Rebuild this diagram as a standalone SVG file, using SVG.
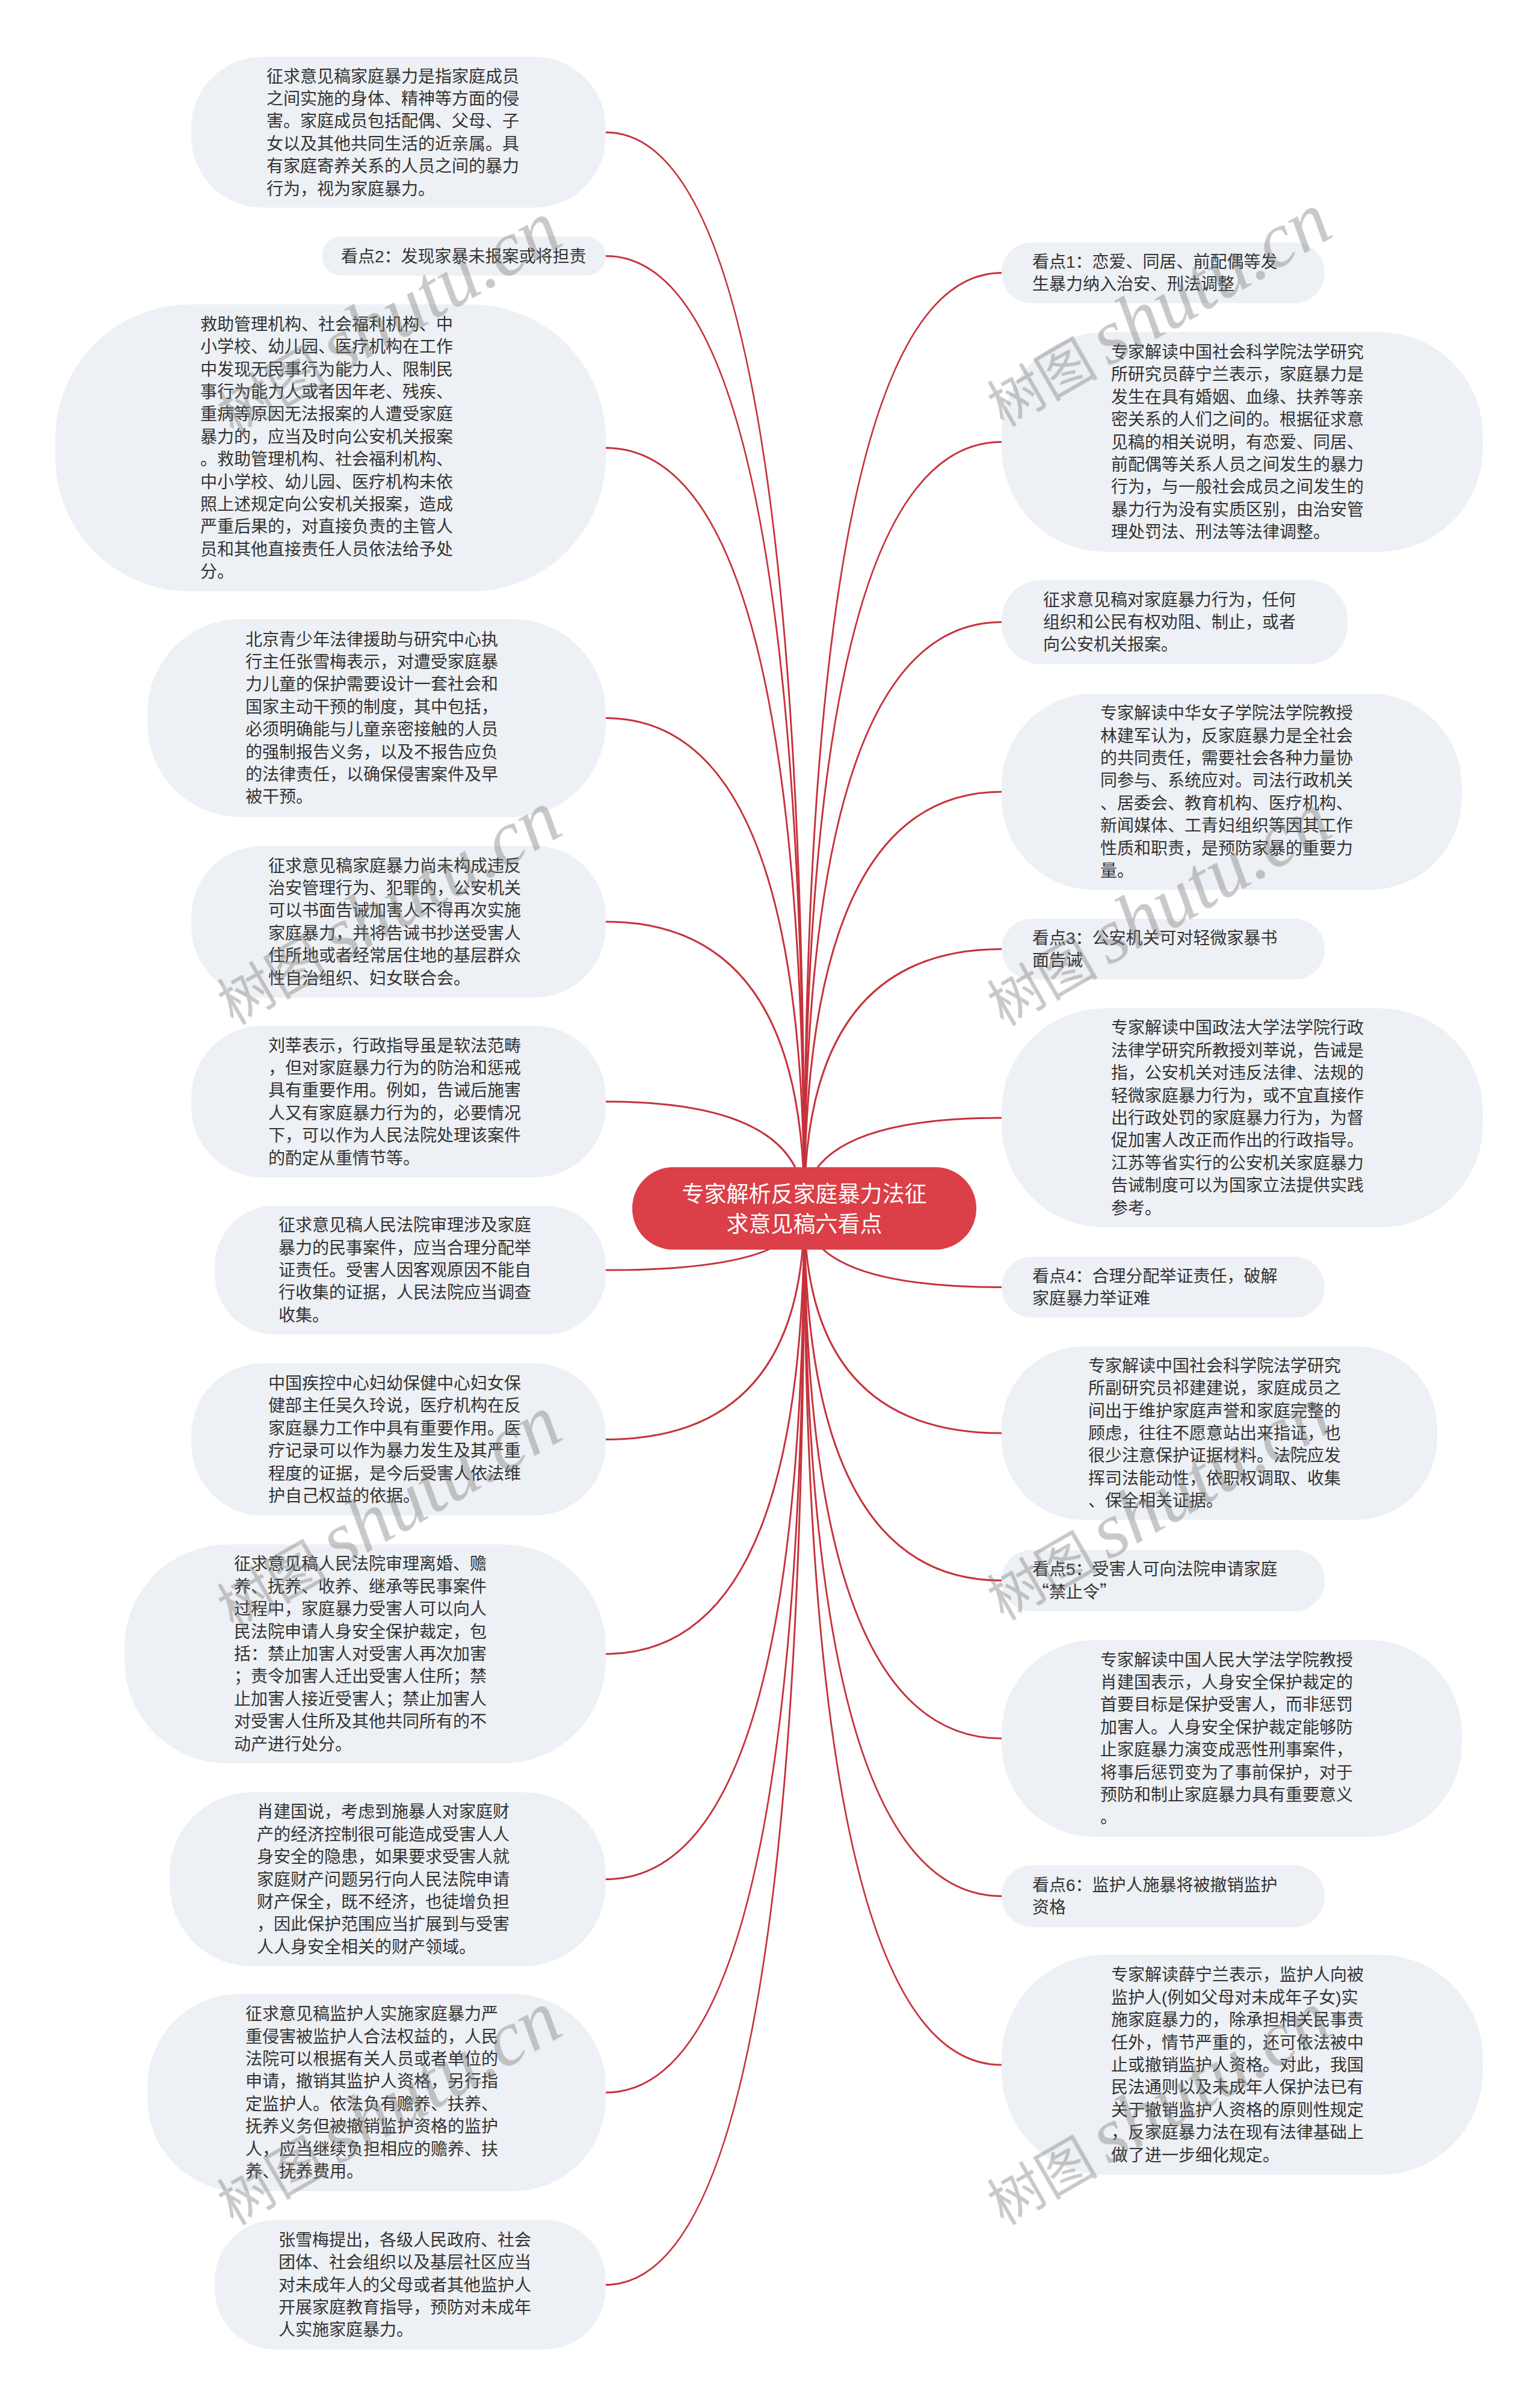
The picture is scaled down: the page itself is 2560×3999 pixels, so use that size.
<svg xmlns="http://www.w3.org/2000/svg" width="2560" height="3999" viewBox="0 0 2560 3999">
<style>
.bg{fill:#ffffff}
.node rect{fill:#EDF0F4}
.t{font-family:'Liberation Sans','Noto Sans CJK SC',sans-serif;font-size:28px;fill:#333333}
.conn path{fill:none;stroke:#C6323B;stroke-width:3}
.root rect{fill:#DB3F47}
.rt{font-family:'Liberation Sans','Noto Sans CJK SC',sans-serif;font-size:37px;fill:#ffffff;text-anchor:middle}
.wm{fill:#787878;opacity:0.4}
.wm1{font-family:'Noto Sans CJK SC',sans-serif;font-size:92px}
.wm2{font-family:'Liberation Serif',serif;font-size:130px;font-style:italic}
</style>
<rect class="bg" x="0" y="0" width="2560" height="3999"/>
<g id="connectors" class="conn">
<path d="M1337,2008 Q1337,220 1007,220"/>
<path d="M1337,2008 Q1337,425.5 1007,425.5"/>
<path d="M1337,2008 Q1337,744.5 1007,744.5"/>
<path d="M1337,2008 Q1337,1193.5 1007,1193.5"/>
<path d="M1337,2008 Q1337,1532 1007,1532"/>
<path d="M1337,2008 Q1337,1831 1007,1831"/>
<path d="M1337,2008 Q1337,2111 1007,2111"/>
<path d="M1337,2008 Q1337,2392.5 1007,2392.5"/>
<path d="M1337,2008 Q1337,2749 1007,2749"/>
<path d="M1337,2008 Q1337,3123.5 1007,3123.5"/>
<path d="M1337,2008 Q1337,3478 1007,3478"/>
<path d="M1337,2008 Q1337,3797.5 1007,3797.5"/>
<path d="M1337,2008 Q1337,453.5 1665,453.5"/>
<path d="M1337,2008 Q1337,734.5 1665,734.5"/>
<path d="M1337,2008 Q1337,1034 1665,1034"/>
<path d="M1337,2008 Q1337,1316 1665,1316"/>
<path d="M1337,2008 Q1337,1577.5 1665,1577.5"/>
<path d="M1337,2008 Q1337,1858 1665,1858"/>
<path d="M1337,2008 Q1337,2139.5 1665,2139.5"/>
<path d="M1337,2008 Q1337,2382 1665,2382"/>
<path d="M1337,2008 Q1337,2627 1665,2627"/>
<path d="M1337,2008 Q1337,2889.5 1665,2889.5"/>
<path d="M1337,2008 Q1337,3151.5 1665,3151.5"/>
<path d="M1337,2008 Q1337,3432 1665,3432"/>
</g>
<g id="root" class="root">
<rect x="1051" y="1940" width="572" height="137" rx="68" ry="68"/>
<text class="rt" x="1337" y="1998">专家解析反家庭暴力法征</text>
<text class="rt" x="1337" y="2048">求意见稿六看点</text>
</g>
<g id="L1" class="node">
<rect x="318" y="94.5" width="689" height="250.5" rx="118" ry="118"/>
<text class="t" x="443" y="136.5"><tspan x="443">征求意见稿家庭暴力是指家庭成员</tspan><tspan x="443" dy="37.4">之间实施的身体、精神等方面的侵</tspan><tspan x="443" dy="37.4">害。家庭成员包括配偶、父母、子</tspan><tspan x="443" dy="37.4">女以及其他共同生活的近亲属。具</tspan><tspan x="443" dy="37.4">有家庭寄养关系的人员之间的暴力</tspan><tspan x="443" dy="37.4">行为，视为家庭暴力。</tspan></text>
</g>
<g id="L2" class="node">
<rect x="535" y="393" width="472" height="65" rx="32.5" ry="32.5"/>
<text class="t" x="567" y="435.5">看点2：发现家暴未报案或将担责</text>
</g>
<g id="L3" class="node">
<rect x="92" y="506" width="915" height="477" rx="224" ry="224"/>
<text class="t" x="333" y="548.8"><tspan x="333">救助管理机构、社会福利机构、中</tspan><tspan x="333" dy="37.4">小学校、幼儿园、医疗机构在工作</tspan><tspan x="333" dy="37.4">中发现无民事行为能力人、限制民</tspan><tspan x="333" dy="37.4">事行为能力人或者因年老、残疾、</tspan><tspan x="333" dy="37.4">重病等原因无法报案的人遭受家庭</tspan><tspan x="333" dy="37.4">暴力的，应当及时向公安机关报案</tspan><tspan x="333" dy="37.4">。救助管理机构、社会福利机构、</tspan><tspan x="333" dy="37.4">中小学校、幼儿园、医疗机构未依</tspan><tspan x="333" dy="37.4">照上述规定向公安机关报案，造成</tspan><tspan x="333" dy="37.4">严重后果的，对直接负责的主管人</tspan><tspan x="333" dy="37.4">员和其他直接责任人员依法给予处</tspan><tspan x="333" dy="37.4">分。</tspan></text>
</g>
<g id="L4" class="node">
<rect x="245" y="1029" width="762" height="329" rx="155" ry="155"/>
<text class="t" x="408" y="1072.6"><tspan x="408">北京青少年法律援助与研究中心执</tspan><tspan x="408" dy="37.4">行主任张雪梅表示，对遭受家庭暴</tspan><tspan x="408" dy="37.4">力儿童的保护需要设计一套社会和</tspan><tspan x="408" dy="37.4">国家主动干预的制度，其中包括，</tspan><tspan x="408" dy="37.4">必须明确能与儿童亲密接触的人员</tspan><tspan x="408" dy="37.4">的强制报告义务，以及不报告应负</tspan><tspan x="408" dy="37.4">的法律责任，以确保侵害案件及早</tspan><tspan x="408" dy="37.4">被干预。</tspan></text>
</g>
<g id="L5" class="node">
<rect x="318" y="1406" width="689" height="252" rx="118" ry="118"/>
<text class="t" x="446" y="1448.5"><tspan x="446">征求意见稿家庭暴力尚未构成违反</tspan><tspan x="446" dy="37.4">治安管理行为、犯罪的，公安机关</tspan><tspan x="446" dy="37.4">可以书面告诫加害人不得再次实施</tspan><tspan x="446" dy="37.4">家庭暴力，并将告诫书抄送受害人</tspan><tspan x="446" dy="37.4">住所地或者经常居住地的基层群众</tspan><tspan x="446" dy="37.4">性自治组织、妇女联合会。</tspan></text>
</g>
<g id="L6" class="node">
<rect x="318" y="1705" width="689" height="252" rx="118" ry="118"/>
<text class="t" x="446" y="1747.5"><tspan x="446">刘莘表示，行政指导虽是软法范畴</tspan><tspan x="446" dy="37.4">，但对家庭暴力行为的防治和惩戒</tspan><tspan x="446" dy="37.4">具有重要作用。例如，告诫后施害</tspan><tspan x="446" dy="37.4">人又有家庭暴力行为的，必要情况</tspan><tspan x="446" dy="37.4">下，可以作为人民法院处理该案件</tspan><tspan x="446" dy="37.4">的酌定从重情节等。</tspan></text>
</g>
<g id="L7" class="node">
<rect x="357" y="2004" width="650" height="214" rx="100" ry="100"/>
<text class="t" x="463" y="2046.2"><tspan x="463">征求意见稿人民法院审理涉及家庭</tspan><tspan x="463" dy="37.4">暴力的民事案件，应当合理分配举</tspan><tspan x="463" dy="37.4">证责任。受害人因客观原因不能自</tspan><tspan x="463" dy="37.4">行收集的证据，人民法院应当调查</tspan><tspan x="463" dy="37.4">收集。</tspan></text>
</g>
<g id="L8" class="node">
<rect x="318" y="2266" width="689" height="253" rx="119" ry="119"/>
<text class="t" x="446" y="2309"><tspan x="446">中国疾控中心妇幼保健中心妇女保</tspan><tspan x="446" dy="37.4">健部主任吴久玲说，医疗机构在反</tspan><tspan x="446" dy="37.4">家庭暴力工作中具有重要作用。医</tspan><tspan x="446" dy="37.4">疗记录可以作为暴力发生及其严重</tspan><tspan x="446" dy="37.4">程度的证据，是今后受害人依法维</tspan><tspan x="446" dy="37.4">护自己权益的依据。</tspan></text>
</g>
<g id="L9" class="node">
<rect x="207" y="2567" width="800" height="364" rx="171" ry="171"/>
<text class="t" x="389" y="2609.4"><tspan x="389">征求意见稿人民法院审理离婚、赡</tspan><tspan x="389" dy="37.4">养、抚养、收养、继承等民事案件</tspan><tspan x="389" dy="37.4">过程中，家庭暴力受害人可以向人</tspan><tspan x="389" dy="37.4">民法院申请人身安全保护裁定，包</tspan><tspan x="389" dy="37.4">括：禁止加害人对受害人再次加害</tspan><tspan x="389" dy="37.4">；责令加害人迁出受害人住所；禁</tspan><tspan x="389" dy="37.4">止加害人接近受害人；禁止加害人</tspan><tspan x="389" dy="37.4">对受害人住所及其他共同所有的不</tspan><tspan x="389" dy="37.4">动产进行处分。</tspan></text>
</g>
<g id="L10" class="node">
<rect x="282" y="2979" width="725" height="289" rx="136" ry="136"/>
<text class="t" x="427" y="3021.3"><tspan x="427">肖建国说，考虑到施暴人对家庭财</tspan><tspan x="427" dy="37.4">产的经济控制很可能造成受害人人</tspan><tspan x="427" dy="37.4">身安全的隐患，如果要求受害人就</tspan><tspan x="427" dy="37.4">家庭财产问题另行向人民法院申请</tspan><tspan x="427" dy="37.4">财产保全，既不经济，也徒增负担</tspan><tspan x="427" dy="37.4">，因此保护范围应当扩展到与受害</tspan><tspan x="427" dy="37.4">人人身安全相关的财产领域。</tspan></text>
</g>
<g id="L11" class="node">
<rect x="245" y="3314" width="762" height="328" rx="154" ry="154"/>
<text class="t" x="408" y="3357.1"><tspan x="408">征求意见稿监护人实施家庭暴力严</tspan><tspan x="408" dy="37.4">重侵害被监护人合法权益的，人民</tspan><tspan x="408" dy="37.4">法院可以根据有关人员或者单位的</tspan><tspan x="408" dy="37.4">申请，撤销其监护人资格，另行指</tspan><tspan x="408" dy="37.4">定监护人。依法负有赡养、扶养、</tspan><tspan x="408" dy="37.4">抚养义务但被撤销监护资格的监护</tspan><tspan x="408" dy="37.4">人，应当继续负担相应的赡养、扶</tspan><tspan x="408" dy="37.4">养、抚养费用。</tspan></text>
</g>
<g id="L12" class="node">
<rect x="357" y="3690" width="650" height="215" rx="101" ry="101"/>
<text class="t" x="463" y="3732.7"><tspan x="463">张雪梅提出，各级人民政府、社会</tspan><tspan x="463" dy="37.4">团体、社会组织以及基层社区应当</tspan><tspan x="463" dy="37.4">对未成年人的父母或者其他监护人</tspan><tspan x="463" dy="37.4">开展家庭教育指导，预防对未成年</tspan><tspan x="463" dy="37.4">人实施家庭暴力。</tspan></text>
</g>
<g id="R1" class="node">
<rect x="1665" y="403" width="537" height="101" rx="50" ry="50"/>
<text class="t" x="1716" y="444.8"><tspan x="1716">看点1：恋爱、同居、前配偶等发</tspan><tspan x="1716" dy="37.4">生暴力纳入治安、刑法调整</tspan></text>
</g>
<g id="R2" class="node">
<rect x="1665" y="552" width="800" height="365" rx="172" ry="172"/>
<text class="t" x="1847" y="594.9"><tspan x="1847">专家解读中国社会科学院法学研究</tspan><tspan x="1847" dy="37.4">所研究员薛宁兰表示，家庭暴力是</tspan><tspan x="1847" dy="37.4">发生在具有婚姻、血缘、扶养等亲</tspan><tspan x="1847" dy="37.4">密关系的人们之间的。根据征求意</tspan><tspan x="1847" dy="37.4">见稿的相关说明，有恋爱、同居、</tspan><tspan x="1847" dy="37.4">前配偶等关系人员之间发生的暴力</tspan><tspan x="1847" dy="37.4">行为，与一般社会成员之间发生的</tspan><tspan x="1847" dy="37.4">暴力行为没有实质区别，由治安管</tspan><tspan x="1847" dy="37.4">理处罚法、刑法等法律调整。</tspan></text>
</g>
<g id="R3" class="node">
<rect x="1665" y="964" width="575" height="140" rx="66" ry="66"/>
<text class="t" x="1734" y="1006.6"><tspan x="1734">征求意见稿对家庭暴力行为，任何</tspan><tspan x="1734" dy="37.4">组织和公民有权劝阻、制止，或者</tspan><tspan x="1734" dy="37.4">向公安机关报案。</tspan></text>
</g>
<g id="R4" class="node">
<rect x="1665" y="1153" width="765" height="326" rx="153" ry="153"/>
<text class="t" x="1829" y="1195.1"><tspan x="1829">专家解读中华女子学院法学院教授</tspan><tspan x="1829" dy="37.4">林建军认为，反家庭暴力是全社会</tspan><tspan x="1829" dy="37.4">的共同责任，需要社会各种力量协</tspan><tspan x="1829" dy="37.4">同参与、系统应对。司法行政机关</tspan><tspan x="1829" dy="37.4">、居委会、教育机构、医疗机构、</tspan><tspan x="1829" dy="37.4">新闻媒体、工青妇组织等因其工作</tspan><tspan x="1829" dy="37.4">性质和职责，是预防家暴的重要力</tspan><tspan x="1829" dy="37.4">量。</tspan></text>
</g>
<g id="R5" class="node">
<rect x="1665" y="1527" width="537" height="101" rx="50" ry="50"/>
<text class="t" x="1716" y="1568.8"><tspan x="1716">看点3：公安机关可对轻微家暴书</tspan><tspan x="1716" dy="37.4">面告诫</tspan></text>
</g>
<g id="R6" class="node">
<rect x="1665" y="1676" width="800" height="364" rx="171" ry="171"/>
<text class="t" x="1847" y="1718.4"><tspan x="1847">专家解读中国政法大学法学院行政</tspan><tspan x="1847" dy="37.4">法律学研究所教授刘莘说，告诫是</tspan><tspan x="1847" dy="37.4">指，公安机关对违反法律、法规的</tspan><tspan x="1847" dy="37.4">轻微家庭暴力行为，或不宜直接作</tspan><tspan x="1847" dy="37.4">出行政处罚的家庭暴力行为，为督</tspan><tspan x="1847" dy="37.4">促加害人改正而作出的行政指导。</tspan><tspan x="1847" dy="37.4">江苏等省实行的公安机关家庭暴力</tspan><tspan x="1847" dy="37.4">告诫制度可以为国家立法提供实践</tspan><tspan x="1847" dy="37.4">参考。</tspan></text>
</g>
<g id="R7" class="node">
<rect x="1665" y="2089" width="537" height="101" rx="50" ry="50"/>
<text class="t" x="1716" y="2130.8"><tspan x="1716">看点4：合理分配举证责任，破解</tspan><tspan x="1716" dy="37.4">家庭暴力举证难</tspan></text>
</g>
<g id="R8" class="node">
<rect x="1665" y="2238" width="724" height="288" rx="135" ry="135"/>
<text class="t" x="1809" y="2279.8"><tspan x="1809">专家解读中国社会科学院法学研究</tspan><tspan x="1809" dy="37.4">所副研究员祁建建说，家庭成员之</tspan><tspan x="1809" dy="37.4">间出于维护家庭声誉和家庭完整的</tspan><tspan x="1809" dy="37.4">顾虑，往往不愿意站出来指证，也</tspan><tspan x="1809" dy="37.4">很少注意保护证据材料。法院应发</tspan><tspan x="1809" dy="37.4">挥司法能动性，依职权调取、收集</tspan><tspan x="1809" dy="37.4">、保全相关证据。</tspan></text>
</g>
<g id="R9" class="node">
<rect x="1665" y="2576" width="537" height="102" rx="50" ry="50"/>
<text class="t" x="1716" y="2618.3"><tspan x="1716">看点5：受害人可向法院申请家庭</tspan><tspan x="1716" dy="37.4" style="font-family:'Noto Sans CJK SC',sans-serif">“禁止令”</tspan></text>
</g>
<g id="R10" class="node">
<rect x="1665" y="2726" width="765" height="327" rx="154" ry="154"/>
<text class="t" x="1829" y="2768.6"><tspan x="1829">专家解读中国人民大学法学院教授</tspan><tspan x="1829" dy="37.4">肖建国表示，人身安全保护裁定的</tspan><tspan x="1829" dy="37.4">首要目标是保护受害人，而非惩罚</tspan><tspan x="1829" dy="37.4">加害人。人身安全保护裁定能够防</tspan><tspan x="1829" dy="37.4">止家庭暴力演变成恶性刑事案件，</tspan><tspan x="1829" dy="37.4">将事后惩罚变为了事前保护，对于</tspan><tspan x="1829" dy="37.4">预防和制止家庭暴力具有重要意义</tspan><tspan x="1829" dy="37.4">。</tspan></text>
</g>
<g id="R11" class="node">
<rect x="1665" y="3100" width="537" height="103" rx="51" ry="51"/>
<text class="t" x="1716" y="3142.8"><tspan x="1716">看点6：监护人施暴将被撤销监护</tspan><tspan x="1716" dy="37.4">资格</tspan></text>
</g>
<g id="R12" class="node">
<rect x="1665" y="3249" width="800" height="366" rx="172" ry="172"/>
<text class="t" x="1847" y="3292.4"><tspan x="1847">专家解读薛宁兰表示，监护人向被</tspan><tspan x="1847" dy="37.4">监护人(例如父母对未成年子女)实</tspan><tspan x="1847" dy="37.4">施家庭暴力的，除承担相关民事责</tspan><tspan x="1847" dy="37.4">任外，情节严重的，还可依法被中</tspan><tspan x="1847" dy="37.4">止或撤销监护人资格。对此，我国</tspan><tspan x="1847" dy="37.4">民法通则以及未成年人保护法已有</tspan><tspan x="1847" dy="37.4">关于撤销监护人资格的原则性规定</tspan><tspan x="1847" dy="37.4">，反家庭暴力法在现有法律基础上</tspan><tspan x="1847" dy="37.4">做了进一步细化规定。</tspan></text>
</g>
<g id="watermarks" class="wm">
<g transform="translate(645,530) rotate(-30)"><text x="-320" y="40"><tspan class="wm1">树图</tspan><tspan class="wm2" dx="18">shutu.cn</tspan></text></g>
<g transform="translate(645,1510) rotate(-30)"><text x="-320" y="40"><tspan class="wm1">树图</tspan><tspan class="wm2" dx="18">shutu.cn</tspan></text></g>
<g transform="translate(645,2515) rotate(-30)"><text x="-320" y="40"><tspan class="wm1">树图</tspan><tspan class="wm2" dx="18">shutu.cn</tspan></text></g>
<g transform="translate(645,3505) rotate(-30)"><text x="-320" y="40"><tspan class="wm1">树图</tspan><tspan class="wm2" dx="18">shutu.cn</tspan></text></g>
<g transform="translate(1925,516) rotate(-30)"><text x="-320" y="40"><tspan class="wm1">树图</tspan><tspan class="wm2" dx="18">shutu.cn</tspan></text></g>
<g transform="translate(1925,1512) rotate(-30)"><text x="-320" y="40"><tspan class="wm1">树图</tspan><tspan class="wm2" dx="18">shutu.cn</tspan></text></g>
<g transform="translate(1925,2500) rotate(-30)"><text x="-320" y="40"><tspan class="wm1">树图</tspan><tspan class="wm2" dx="18">shutu.cn</tspan></text></g>
<g transform="translate(1925,3505) rotate(-30)"><text x="-320" y="40"><tspan class="wm1">树图</tspan><tspan class="wm2" dx="18">shutu.cn</tspan></text></g>
</g>
</svg>
